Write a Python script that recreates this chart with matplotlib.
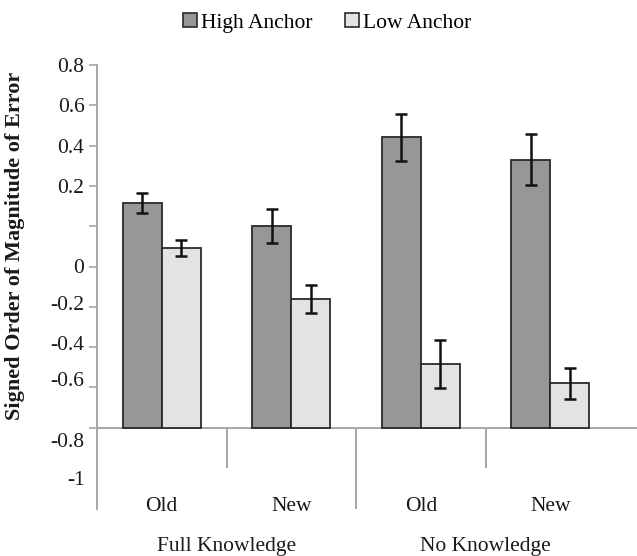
import matplotlib
matplotlib.use("Agg")
import matplotlib.pyplot as plt
import numpy as np
from matplotlib.patches import Patch

plt.rcParams["font.family"] = "serif"
plt.rcParams["font.serif"] = ["Liberation Serif", "DejaVu Serif"]

# Data (bars rise from the -1.0 floor)
categories = ["Old", "New", "Old", "New"]
groups = ["Full Knowledge", "No Knowledge"]
high_anchor = [0.114, 0.001, 0.441, 0.329]
high_err = [0.050, 0.083, 0.116, 0.127]
low_anchor = [-0.107, -0.360, -0.684, -0.780]
low_err = [0.040, 0.070, 0.117, 0.077]
floor = -1.0

# tick labels as printed in the figure (the lower ones drift from the tick marks)
tick_label_text = ["0.8", "0.6", "0.4", "0.2", "0", "-0.2", "-0.4", "-0.6", "-0.8", "-1"]
tick_label_pos = [0.8, 0.6, 0.4, 0.2, -0.198, -0.381, -0.580, -0.758, -1.061, -1.250]

W, H = 637, 556
fig = plt.figure(figsize=(W / 100, H / 100), dpi=100)
ax = fig.add_axes([97 / W, 1 - 509 / H, (637 - 97) / W, (509 - 65) / H])

axis_grey = "#a6a6a6"
x = np.arange(len(categories))
bw = 0.30
high_h = np.array(high_anchor) - floor
low_h = np.array(low_anchor) - floor

ax.bar(x - bw / 2, high_h, bw, bottom=floor, color="#979797",
       edgecolor="#2a2a2a", linewidth=1.3, zorder=3)
ax.bar(x + bw / 2, low_h, bw, bottom=floor, color="#e3e3e3",
       edgecolor="#2a2a2a", linewidth=1.3, zorder=3)
ax.errorbar(x - bw / 2, high_anchor, yerr=high_err, fmt="none", ecolor="#111111",
            elinewidth=1.8, capsize=4, capthick=1.8, zorder=4)
ax.errorbar(x + bw / 2, low_anchor, yerr=low_err, fmt="none", ecolor="#111111",
            elinewidth=1.8, capsize=4, capthick=1.8, zorder=4)

ax.set_xlim(-0.5, -0.5 + (637 - 97) / 129.5)
ax.set_ylim(0.8 - 444 / 201.5, 0.8)

# baseline and category separators
ax.axhline(floor, color=axis_grey, lw=1.4, zorder=2)
ax.vlines([0.5, 2.5], floor, -1.2, color=axis_grey, lw=1.4)
ax.vlines([1.5], floor, ax.get_ylim()[0], color=axis_grey, lw=1.4)

for s in ["top", "right", "bottom"]:
    ax.spines[s].set_visible(False)
ax.spines["left"].set_color(axis_grey)
ax.spines["left"].set_linewidth(1.4)

ax.set_xticks([])

# major ticks carry the marks; labels that sit on a mark go there, the rest on minor ticks
major_pos = np.round(np.arange(floor, 0.81, 0.2), 1)
on_mark = {p: t for p, t in zip(tick_label_pos, tick_label_text) if np.isclose(major_pos, p).any()}
ax.set_yticks(major_pos)
ax.set_yticklabels([next((t for p, t in on_mark.items() if np.isclose(p, m)), "") for m in major_pos])
ax.tick_params(axis="y", which="major", length=6, width=1.2, color=axis_grey, direction="out",
               pad=3, labelsize=15.5, labelcolor="#1a1a1a")
off_pos = [p for p in tick_label_pos if not np.isclose(major_pos, p).any()]
off_txt = [t for p, t in zip(tick_label_pos, tick_label_text) if not np.isclose(major_pos, p).any()]
ax.set_yticks(off_pos, minor=True)
ax.set_yticklabels(off_txt, minor=True)
ax.tick_params(axis="y", which="minor", length=0, pad=9, labelsize=15.5, labelcolor="#1a1a1a")

for i, c in enumerate(categories):
    ax.text(i, -1.393, c, ha="center", va="center", fontsize=15.5, color="#1a1a1a")
for j, g in enumerate(groups):
    ax.text(2 * j + 0.5, -1.592, g, ha="center", va="center", fontsize=15.5,
            color="#1a1a1a", clip_on=False)

ax.set_ylabel("Signed Order of Magnitude of Error", fontsize=16, fontweight="bold",
              color="#1a1a1a")
ax.yaxis.set_label_coords(-72 / (637 - 97), (509 - 246) / 444)

handles = [Patch(facecolor="#979797", edgecolor="#2a2a2a", linewidth=1.2, label="High Anchor"),
           Patch(facecolor="#e3e3e3", edgecolor="#2a2a2a", linewidth=1.2, label="Low Anchor")]
fig.legend(handles=handles, loc="center", bbox_to_anchor=(327 / W, 1 - 23 / H), ncol=2,
           frameon=False, fontsize=15.5, handlelength=0.65, handleheight=0.65,
           handletextpad=0.2, columnspacing=1.5)

fig.savefig("out.png", dpi=100)
